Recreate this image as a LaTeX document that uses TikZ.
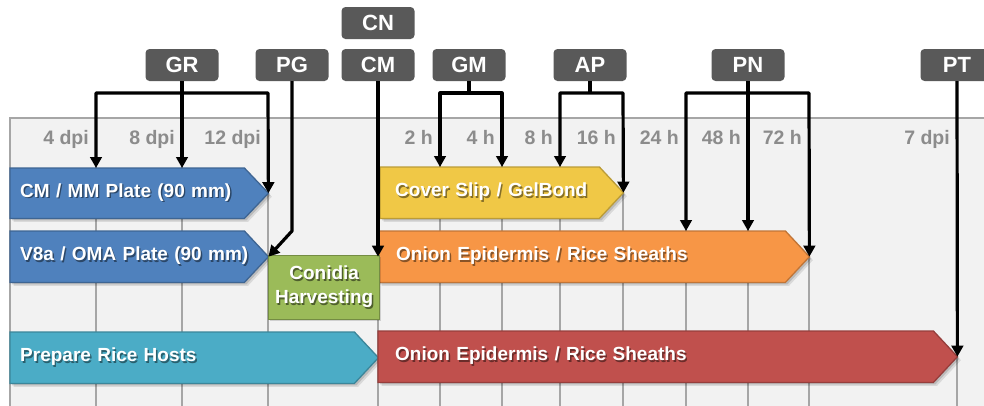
\documentclass[tikz,border=0pt]{standalone}
\usepackage{fontspec}
\setmainfont{Liberation Sans}
\usetikzlibrary{arrows.meta}

\definecolor{panelbg}{HTML}{F2F2F2}
\definecolor{panelline}{HTML}{A6A6A6}
\definecolor{tickgray}{HTML}{8C8C8C}
\definecolor{tagfill}{HTML}{595959}
\definecolor{cblue}{HTML}{4F81BD}
\definecolor{caqua}{HTML}{4BACC6}
\definecolor{cgreen}{HTML}{9BBB59}
\definecolor{cyellow}{HTML}{F0C846}
\definecolor{corange}{HTML}{F79646}
\definecolor{cred}{HTML}{C0504D}

\pgfdeclarelayer{grid}
\pgfdeclarelayer{bars}
\pgfsetlayers{grid,bars,main}

\newcommand\gbarfont{\fontsize{19pt}{24pt}\selectfont\bfseries}
\newcommand\gtagfont{\fontsize{22pt}{24pt}\selectfont\bfseries}
\newcommand\gtickfont{\fontsize{19.5pt}{22pt}\selectfont\bfseries}

% white label with a dark offset copy underneath
\newcommand\shtxt[2]{\makebox[0pt][l]{\hspace*{1.4pt}\raisebox{-1.4pt}{\textcolor{#1}{#2}}}#2}

\tikzset{
  tag/.style={rectangle, rounded corners=4pt, fill=tagfill, text=white,
    font=\gtagfont, minimum width=73pt, minimum height=32pt, inner sep=0pt},
  tick/.style={font=\gtickfont, text=tickgray, anchor=base east, inner sep=0pt},
  barbody/.style={rectangle, inner ysep=0pt, text=white, font=\gbarfont,
    anchor=north west, align=left},
  conn/.style={line width=3.2pt, black, line join=round},
  tip/.tip={Triangle[length=11pt,width=11.5pt]},
}

% arrow-shaped bar: name, x0, x1, ytop, height, colour, left pad, text
\newcommand\gantbar[8]{%
  \pgfmathsetmacro\gbw{#3-#2}%
  \pgfmathsetmacro\gtw{#3-#2-2*#7}%
  \node[barbody, minimum width=\gbw pt, text width=\gtw pt, inner xsep=#7pt,
        minimum height=#5pt] (#1) at (#2,#4) {\shtxt{#6!55!black}{#8}};
  \begin{pgfonlayer}{bars}
    \foreach \s/\o in {3.5/0.10, 2/0.14}{
      \fill[black, opacity=\o] ([shift={(\s,\s)}]#1.north west)
        -- ([shift={(\s-24,\s)}]#1.north east) -- ([shift={(\s,\s)}]#1.east)
        -- ([shift={(\s-24,\s)}]#1.south east) -- ([shift={(\s,\s)}]#1.south west) -- cycle;
    }
    \path[fill=#6, draw=#6!78!black, line width=1.3pt]
      (#1.north west) -- ([xshift=-24pt]#1.north east) -- (#1.east)
      -- ([xshift=-24pt]#1.south east) -- (#1.south west) -- cycle;
  \end{pgfonlayer}
}

\begin{document}
\begin{tikzpicture}[x=1pt, y=-1pt]
\useasboundingbox (0,0) rectangle (984,405);

% time axis positions
\foreach \n/\x in {gd4/96, gd8/182, gd12/268, gcn/378, gh2/440, gh4/502,
                   gh8/560, gh16/623, gh24/686, gh48/748, gh72/809, gd7/957}
  \coordinate (\n) at (\x,118);
\coordinate (lvl) at (0,93);

% panel and grid
\begin{pgfonlayer}{grid}
  \fill[panelbg] (10,118) rectangle (1000,420);
  \foreach \n in {gd4,gd8,gd12,gcn,gh2,gh4,gh8,gh16,gh24,gh48,gh72,gd7}
    \draw[panelline, line width=1.6pt] (\n) -- (\n |- 0,420);
  \draw[panelline, line width=2pt] (1000,118) -- (10,118) -- (10,420);
\end{pgfonlayer}

% time labels
\foreach \n/\t in {gd4/4 dpi, gd8/8 dpi, gd12/12 dpi, gh2/2 h, gh4/4 h, gh8/8 h,
                   gh16/16 h, gh24/24 h, gh48/48 h, gh72/72 h, gd7/7 dpi}
  \node[tick] (lab-\n) at ([xshift=-7pt]\n |- 0,144) {\t};

% bars
\gantbar{cmmm}{10}{268}{168}{50}{cblue}{10}{CM / MM Plate (90 mm)}
\gantbar{v8a}{10}{268}{231}{51}{cblue}{10}{V8a / OMA Plate (90 mm)}
\gantbar{rice}{10}{378}{332}{51}{caqua}{10}{Prepare Rice Hosts}
\gantbar{cover}{380}{623}{167}{51}{cyellow}{15}{Cover Slip / GelBond}
\gantbar{onion}{378}{809}{231}{51}{corange}{18}{Onion Epidermis / Rice Sheaths}
\gantbar{sheath}{378}{957}{331}{51}{cred}{17}{Onion Epidermis / Rice Sheaths}

\begin{pgfonlayer}{bars}
  \fill[black, opacity=0.14] (270,257) rectangle (381,321);
\end{pgfonlayer}
\node[rectangle, anchor=north west, fill=cgreen, draw=cgreen!75!black,
      line width=1.3pt, minimum width=111pt, minimum height=64pt, inner sep=0pt,
      font=\gbarfont, text=white, align=center] (harv) at (268,255)
  {\shtxt{cgreen!50!black}{Conidia}\\\shtxt{cgreen!50!black}{Harvesting}};

% stage tags
\node[tag] (gr) at (182,65) {GR};
\node[tag] (pg) at (292,65) {PG};
\node[tag] (cm) at (378,65) {CM};
\node[tag] (cn) at (378,23) {CN};
\node[tag] (gm) at (469,65) {GM};
\node[tag] (ap) at (590,65) {AP};
\node[tag] (pn) at (748,65) {PN};
\node[tag] (pt) at (957,65) {PT};

% connectors
\draw[conn, tip-tip] (gd4 |- cmmm.north) -- (gd4 |- lvl) -- (gd12 |- lvl) -- (cmmm.east);
\draw[conn, -tip] (gr.south) -- (gd8 |- cmmm.north);

\draw[conn, -tip] (pg.south) -- (pg.south |- v8a.north) -- (v8a.east);

\draw[conn, -tip] (cm.south) -- (onion.west);

\draw[conn, tip-tip] (gh2 |- cover.north) -- (gh2 |- lvl) -- (gh4 |- lvl) -- (gh4 |- cover.north);
\draw[conn] (gm.south) -- (gm.south |- lvl);

\draw[conn, tip-tip] (gh8 |- cover.north) -- (gh8 |- lvl) -- (gh16 |- lvl) -- (cover.east);
\draw[conn] (ap.south) -- (ap.south |- lvl);

\draw[conn, tip-tip] (gh24 |- onion.north) -- (gh24 |- lvl) -- (gh72 |- lvl) -- (onion.east);
\draw[conn, -tip] (pn.south) -- (gh48 |- onion.north);

\draw[conn, -tip] (pt.south) -- (sheath.east);
\end{tikzpicture}
\end{document}
